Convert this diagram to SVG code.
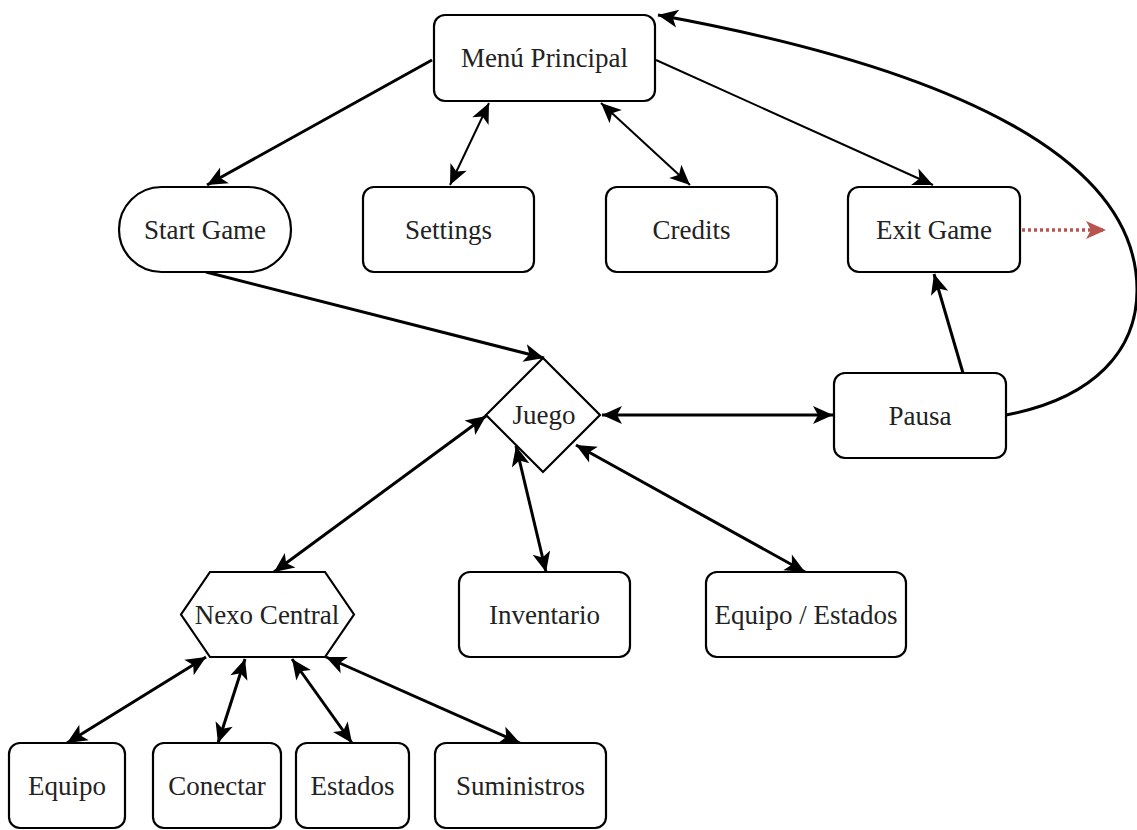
<svg xmlns="http://www.w3.org/2000/svg" width="1137" height="830" viewBox="0 0 1137 830">
<style>
.n{fill:#fff;stroke:#000;stroke-width:2.2}
.t{font-family:'Liberation Serif','Times New Roman',Times,'DejaVu Serif',serif;font-size:27px;fill:#222;text-anchor:middle;dominant-baseline:central}
.c{fill:none;stroke:#000;stroke-width:3}
.c2{fill:none;stroke:#000;stroke-width:2}
</style>
<defs>
<marker id="a" markerUnits="userSpaceOnUse" markerWidth="24" markerHeight="22" viewBox="-22 -11 24 22" refX="0" refY="0" orient="auto-start-reverse">
<path d="M0,0 L-20,-9 L-15,0 L-20,9 Z" fill="#000"/>
</marker>
<marker id="r" markerUnits="userSpaceOnUse" markerWidth="24" markerHeight="22" viewBox="-22 -11 24 22" refX="0" refY="0" orient="auto">
<path d="M0,0 L-20,-9 L-15,0 L-20,9 Z" fill="#b85450"/>
</marker>
</defs>
<rect width="1137" height="830" fill="#fff"/>
<g id="connectors">
<path class="c" d="M432,60 L207,185" marker-end="url(#a)"/>
<path class="c2" d="M489,103 L450,185" marker-start="url(#a)" marker-end="url(#a)"/>
<path class="c2" d="M601,103 L690,185" marker-start="url(#a)" marker-end="url(#a)"/>
<path class="c2" d="M656,60 L933,185" marker-end="url(#a)"/>
<path class="c" d="M206,272 L544,358" marker-end="url(#a)"/>
<path class="c" d="M602,415 L833,415" marker-start="url(#a)" marker-end="url(#a)"/>
<path class="c" d="M963,373 L934,274" marker-end="url(#a)"/>
<path class="c" d="M1006,415 C1095,398 1137,350 1137,290 C1137,160 960,70 658,15" marker-end="url(#a)"/>
<path d="M1022,230 L1106,230" fill="none" stroke="#b85450" stroke-width="3.5" stroke-dasharray="3,3" marker-end="url(#r)"/>
<path class="c" d="M486,416 L274,572" marker-start="url(#a)" marker-end="url(#a)"/>
<path class="c" d="M516,446 L546,572" marker-start="url(#a)" marker-end="url(#a)"/>
<path class="c" d="M576,445 L805,572" marker-start="url(#a)" marker-end="url(#a)"/>
<path class="c" d="M206,657 L67,743" marker-start="url(#a)" marker-end="url(#a)"/>
<path class="c" d="M245,659 L218,743" marker-start="url(#a)" marker-end="url(#a)"/>
<path class="c" d="M292,659 L352,743" marker-start="url(#a)" marker-end="url(#a)"/>
<path class="c" d="M326,657 L520,743" marker-start="url(#a)" marker-end="url(#a)"/>
</g>
<g id="menu"><rect class="n" x="434" y="15" width="221" height="86" rx="11"/><text class="t" x="544.5" y="58">Menú Principal</text></g>
<g id="start"><rect class="n" x="119" y="187" width="172" height="85" rx="42.5"/><text class="t" x="205" y="229.5">Start Game</text></g>
<g id="settings"><rect class="n" x="363" y="187" width="171" height="85" rx="11"/><text class="t" x="448.5" y="229.5">Settings</text></g>
<g id="credits"><rect class="n" x="606" y="187" width="171" height="85" rx="11"/><text class="t" x="691.5" y="229.5">Credits</text></g>
<g id="exit"><rect class="n" x="848" y="187" width="172" height="85" rx="11"/><text class="t" x="934" y="229.5">Exit Game</text></g>
<g id="juego"><path class="n" d="M543,358 L600,415 L543,472 L486,415 Z"/><text class="t" x="544" y="415">Juego</text></g>
<g id="pausa"><rect class="n" x="834" y="373" width="172" height="85" rx="11"/><text class="t" x="920" y="415.5">Pausa</text></g>
<g id="nexo"><path class="n" d="M210,572 L325,572 L354,614.5 L325,657 L210,657 L181,614.5 Z"/><text class="t" x="267" y="614.5">Nexo Central</text></g>
<g id="inventario"><rect class="n" x="459" y="572" width="171" height="85" rx="11"/><text class="t" x="544.5" y="614.5">Inventario</text></g>
<g id="equipoestados"><rect class="n" x="706" y="572" width="200" height="85" rx="11"/><text class="t" x="806" y="614.5">Equipo / Estados</text></g>
<g id="equipo"><rect class="n" x="9" y="743" width="116" height="85" rx="11"/><text class="t" x="67" y="785.5">Equipo</text></g>
<g id="conectar"><rect class="n" x="153" y="743" width="128" height="85" rx="11"/><text class="t" x="217" y="785.5">Conectar</text></g>
<g id="estados"><rect class="n" x="296" y="743" width="113" height="85" rx="11"/><text class="t" x="352.5" y="785.5">Estados</text></g>
<g id="suministros"><rect class="n" x="435" y="743" width="171" height="85" rx="11"/><text class="t" x="520.5" y="785.5">Suministros</text></g>
</svg>
